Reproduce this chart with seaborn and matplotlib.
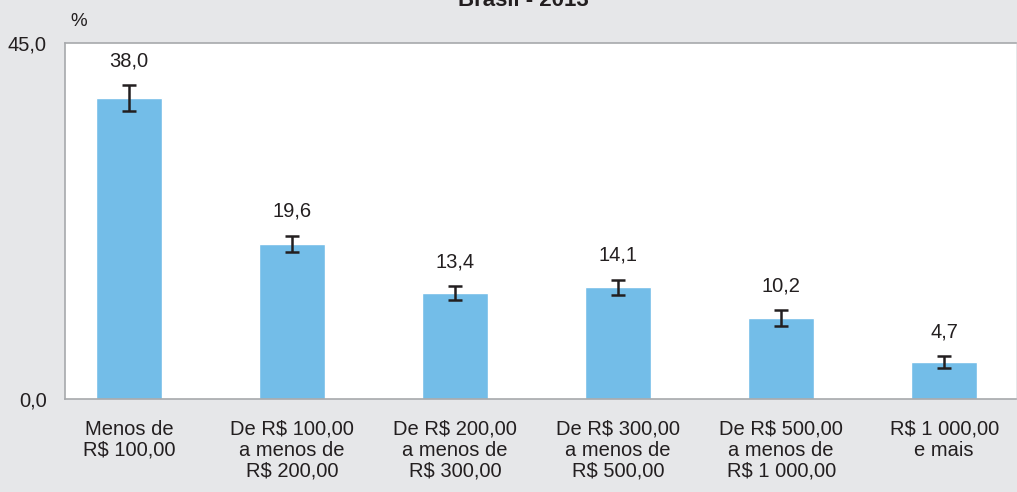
import matplotlib
matplotlib.use("Agg")
import matplotlib.pyplot as plt
import seaborn as sns
import pandas as pd

categorias = ["Menos de\nR$ 100,00", "De R$ 100,00\na menos de\nR$ 200,00",
              "De R$ 200,00\na menos de\nR$ 300,00", "De R$ 300,00\na menos de\nR$ 500,00",
              "De R$ 500,00\na menos de\nR$ 1 000,00", "R$ 1 000,00\ne mais"]
valores = [38.0, 19.6, 13.4, 14.1, 10.2, 4.7]
erros = [1.65, 1.05, 0.85, 1.0, 1.0, 0.75]
rotulos = ["38,0", "19,6", "13,4", "14,1", "10,2", "4,7"]

df = pd.DataFrame({"faixa": categorias, "pct": valores})

sns.set_style("white")
plt.rcParams["font.family"] = ["Liberation Sans", "DejaVu Sans"]
texto = "#231f20"
fundo = "#e6e7e9"

fig = plt.figure(figsize=(10.17, 4.92), dpi=100, facecolor=fundo)
ax = fig.add_axes([0.0639, 0.189, 0.935, 0.7236])
ax.set_facecolor("white")

sns.barplot(data=df, x="faixa", y="pct", color="#73bde8", saturation=1,
            width=0.405, ax=ax)
ax.errorbar(range(len(valores)), valores, yerr=erros, fmt="none",
            ecolor=texto, elinewidth=1.8, capsize=5, capthick=1.8)
for i, (v, e, r) in enumerate(zip(valores, erros, rotulos)):
    ax.annotate(r, (i, v + e), xytext=(0, 17.5), textcoords="offset points",
                ha="center", va="center", fontsize=14.5, color=texto)

ax.set_xlim(-0.393, 5.44)
ax.set_ylim(0, 45)
ax.set_yticks([0, 45])
ax.set_yticklabels(["0,0", "45,0"])
ax.set_xlabel("")
ax.set_ylabel("")
ax.tick_params(axis="both", length=0, labelsize=14.5, colors=texto)
ax.tick_params(axis="y", pad=13)
ax.tick_params(axis="x", pad=15)
for t in ax.get_xticklabels():
    t.set_linespacing(1.12)
for s in ["left", "bottom", "top"]:
    ax.spines[s].set_color("#a7a9ac")
    ax.spines[s].set_linewidth(1.2)
ax.spines["right"].set_visible(False)

fig.text(0.077, 0.957, "%", fontsize=13.5, color=texto, ha="center", va="center")
fig.text(0.515, 1.0, "Brasil - 2013", fontsize=16, fontweight="bold",
         color=texto, ha="center", va="center")

fig.savefig("out.png", dpi=100, facecolor=fundo)
